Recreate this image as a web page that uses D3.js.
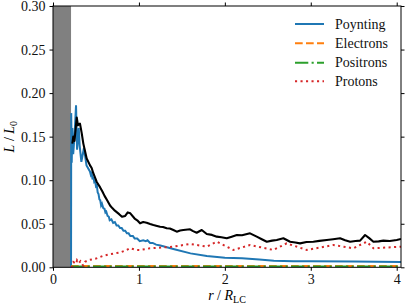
<!DOCTYPE html>
<html><head><meta charset="utf-8">
<script src="https://cdn.jsdelivr.net/npm/d3@7"></script>
<style>body{margin:0;background:#fff}</style>
</head><body><svg id="c" width="408" height="305"></svg>
<script>
const xTicks=[0,1,2,3,4];
const yTicks=[0,0.05,0.10,0.15,0.20,0.25,0.30];
const yTickLabels=["0.00","0.05","0.10","0.15","0.20","0.25","0.30"];
const lcBand=[0,0.21];
const seriesNames=["Poynting","Electrons","Positrons","Protons"];
const seriesColors=["#1f77b4","#ff7f0e","#2ca02c","#d62728"];

const rTotal=[0.225,0.236,0.25,0.276,0.291,0.314,0.334,0.353,0.392,0.431,0.45,0.469,0.509,0.547,0.575,0.6,0.63,0.664,0.69,0.72,0.77,0.803,0.84,0.87,0.9,0.95,0.98,1.013,1.05,1.09,1.13,1.168,1.2,1.246,1.28,1.323,1.36,1.401,1.44,1.48,1.517,1.595,1.63,1.672,1.731,1.789,1.85,1.906,1.96,2.022,2.08,2.139,2.2,2.293,2.371,2.43,2.488,2.55,2.604,2.681,2.759,2.82,2.875,2.95,3.03,3.1,3.186,3.26,3.341,3.4,3.458,3.52,3.574,3.632,3.68,3.729,3.79,3.845,3.92,4.0,4.05];
const total=[0.142,0.150,0.145,0.172,0.163,0.165,0.154,0.142,0.125,0.117,0.114,0.108,0.098,0.092,0.087,0.082,0.077,0.071,0.068,0.065,0.061,0.058,0.059,0.063,0.062,0.056,0.054,0.0505,0.052,0.0512,0.0498,0.0486,0.0478,0.0466,0.0462,0.0448,0.0445,0.0428,0.0409,0.0422,0.0428,0.0436,0.0415,0.0397,0.0428,0.0382,0.0372,0.0352,0.0345,0.0333,0.0352,0.0371,0.0368,0.039,0.0352,0.0322,0.0294,0.0306,0.0313,0.0333,0.0294,0.0285,0.0275,0.029,0.0294,0.0303,0.0313,0.0322,0.0333,0.031,0.0294,0.0302,0.0306,0.0371,0.0335,0.0294,0.0298,0.0306,0.0302,0.0313,0.0325];

const rPoynting=[0.21,0.212,0.218,0.225,0.235,0.25,0.268,0.28,0.3,0.31,0.33,0.36,0.39,0.43,0.44,0.45,0.46,0.47,0.48,0.49,0.50,0.51,0.52,0.53,0.54,0.55,0.56,0.57,0.585,0.6,0.61,0.62,0.635,0.65,0.66,0.68,0.7,0.72,0.74,0.76,0.78,0.8,0.82,0.84,0.86,0.88,0.9,0.93,0.95,0.98,1.01,1.05,1.08,1.1,1.13,1.16,1.2,1.25,1.4,1.6,1.79,2.0,2.2,2.4,2.57,2.8,3.0,3.5,4.05];
const poynting=[0,0.177,0.12,0.16,0.13,0.15,0.186,0.135,0.16,0.14,0.121,0.137,0.117,0.110,0.106,0.108,0.101,0.104,0.098,0.099,0.093,0.094,0.086,0.084,0.078,0.077,0.071,0.073,0.068,0.067,0.063,0.064,0.059,0.058,0.054,0.055,0.051,0.052,0.048,0.048,0.045,0.045,0.042,0.042,0.039,0.039,0.036,0.036,0.033,0.033,0.030,0.031,0.030,0.031,0.028,0.028,0.026,0.025,0.021,0.016,0.013,0.011,0.0105,0.009,0.0075,0.007,0.007,0.0068,0.0062];

const rProtons=[0.21,0.225,0.238,0.27,0.28,0.30,0.32,0.35,0.373,0.42,0.5,0.58,0.66,0.78,0.86,0.895,0.97,1.013,1.129,1.401,1.595,1.789,1.906,2.1,2.293,2.565,2.72,2.953,3.263,3.496,3.651,3.729,4.05];
const protons=[0,0.001,0.006,0.004,0.008,0.005,0.007,0.002,0.0064,0.0084,0.010,0.013,0.015,0.017,0.020,0.022,0.020,0.0199,0.0218,0.0237,0.0268,0.0237,0.0294,0.0199,0.0256,0.0199,0.0275,0.0199,0.0256,0.0218,0.0294,0.0218,0.0237];

const rLeptons=[0.21,0.5,1.0,2.0,3.0,4.05];
const electrons=[0.0015,0.0016,0.0015,0.0015,0.0015,0.0015];
const positrons=[0.0008,0.0009,0.0008,0.0008,0.0008,0.0008];

const svg=d3.select("#c");
const x=d3.scaleLinear().domain([0,4.05]).range([53,401]);
const y=d3.scaleLinear().domain([0,0.30]).range([267.3,6]);
const fs=14;
const FF='"Liberation Serif"';

svg.append("rect").attr("x",x(lcBand[0])).attr("y",y(0.30)).attr("width",x(lcBand[1])-x(lcBand[0])).attr("height",y(0)-y(0.30)).attr("fill","#808080");

svg.append("clipPath").attr("id","clp").append("rect").attr("x",x(0)).attr("y",y(0.30)).attr("width",x(4.05)-x(0)).attr("height",y(0)-y(0.30));
const g=svg.append("g").attr("clip-path","url(#clp)");
const line=d3.line().x(d=>x(d[0])).y(d=>y(d[1]));
const zip=(a,b)=>a.map((v,i)=>[v,b[i]]);

const styles=[
 {data:zip(rPoynting,poynting),dash:null},
 {data:zip(rLeptons,electrons),dash:"7.7,3.3"},
 {data:zip(rLeptons,positrons),dash:"13.3,3.3,2.1,3.3"},
 {data:zip(rProtons,protons),dash:"2.1,3.4"}
];
styles.forEach((s,i)=>{
 g.append("path").attr("d",line(s.data)).attr("fill","none").attr("stroke",seriesColors[i]).attr("stroke-width",2).attr("stroke-dasharray",s.dash);
});
g.append("path").attr("d",line(zip(rTotal,total))).attr("fill","none").attr("stroke","#000").attr("stroke-width",2.1).attr("stroke-linejoin","round");

svg.append("rect").attr("x",x(0)).attr("y",y(0.30)).attr("width",x(4.05)-x(0)).attr("height",y(0)-y(0.30)).attr("fill","none").attr("stroke","#000").attr("stroke-width",1);

const fmtY=(d)=>yTickLabels[yTicks.indexOf(d)];
const axB=svg.append("g").attr("transform",`translate(0,${y(0)})`).call(d3.axisBottom(x).tickValues(xTicks).tickSize(3.5).tickPadding(3).tickFormat(d3.format("d")));
const axT=svg.append("g").attr("transform",`translate(0,${y(0.30)})`).call(d3.axisTop(x).tickValues(xTicks).tickSize(3.5).tickFormat(""));
const axL=svg.append("g").attr("transform",`translate(${x(0)},0)`).call(d3.axisLeft(y).tickValues(yTicks).tickSize(3.5).tickPadding(4).tickFormat(fmtY));
const axR=svg.append("g").attr("transform",`translate(${x(4.05)},0)`).call(d3.axisRight(y).tickValues(yTicks).tickSize(3.5).tickFormat(""));
[axB,axT,axL,axR].forEach(a=>{a.attr("font-family",null).attr("font-size",null);a.select(".domain").remove();a.selectAll("line").attr("stroke","#000").attr("stroke-width",1);a.selectAll("text").style("font-family",FF).style("font-size",fs+"px").attr("fill","#111");});

const xl=svg.append("text").attr("x",227).attr("y",300).attr("text-anchor","middle").style("font-family",FF).style("font-size",fs+"px");
xl.append("tspan").attr("font-style","italic").text("r");
xl.append("tspan").text(" / ");
xl.append("tspan").attr("font-style","italic").text("R");
xl.append("tspan").style("font-size","10px").attr("dy",3).text("LC");

const yl=svg.append("text").attr("transform",`translate(14,${(y(0)+y(0.30))/2}) rotate(-90)`).attr("text-anchor","middle").style("font-family",FF).style("font-size",fs+"px");
yl.append("tspan").attr("font-style","italic").text("L");
yl.append("tspan").text(" / ");
yl.append("tspan").attr("font-style","italic").text("L");
yl.append("tspan").style("font-size","10px").attr("dy",3).text("0");

const legY=[24,43.3,62.7,81.3];
seriesNames.forEach((n,i)=>{
 svg.append("line").attr("x1",295).attr("x2",324).attr("y1",legY[i]).attr("y2",legY[i]).attr("stroke",seriesColors[i]).attr("stroke-width",2).attr("stroke-dasharray",styles[i].dash);
 svg.append("text").attr("x",335).attr("y",legY[i]+4.5).style("font-family",FF).style("font-size",fs+"px").attr("fill","#111").text(n);
});
</script></body></html>
